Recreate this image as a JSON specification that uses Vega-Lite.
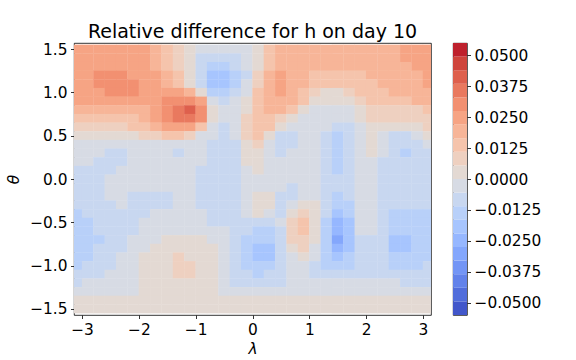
{
"$schema": "https://vega.github.io/schema/vega-lite/v6.json",
"autosize": {"type": "pad"},
"padding": {"left": 6, "top": 22, "right": 5, "bottom": 5},
"background": "white",
"bounds": "flush",
"spacing": 22,
"config": {
"view": {"stroke": "black", "strokeWidth": 0.8},
"font": "DejaVu Sans",
"axis": {"labelFont": "DejaVu Sans", "labelFontSize": 15.4, "labelColor": "black", "tickColor": "black", "tickSize": 3.5, "tickWidth": 0.8, "labelPadding": 3.5, "grid": false, "domain": false, "titleFont": "DejaVu Sans", "titleFontSize": 15.4, "titleFontWeight": "normal", "titleFontStyle": "italic", "titleColor": "black"}
},
"resolve": {"scale": {"color": "independent", "y": "independent"}},
"hconcat": [
{
"width": 357, "height": 272,
"title": {"text": "Relative difference for h on day 10", "fontSize": 19, "fontWeight": "normal", "font": "DejaVu Sans", "color": "black", "anchor": "middle", "frame": "group", "baseline": "alphabetic", "offset": -15},
"data": {"values": [
{"x":-3.1,"y":1.5,"v":0.0248},{"x":-2.9,"y":1.5,"v":0.0248},{"x":-2.7,"y":1.5,"v":0.0248},{"x":-2.5,"y":1.5,"v":0.0248},{"x":-2.3,"y":1.5,"v":0.0248},{"x":-2.1,"y":1.5,"v":0.0248},{"x":-1.9,"y":1.5,"v":0.0248},{"x":-1.7,"y":1.5,"v":0.0193},{"x":-1.5,"y":1.5,"v":0.0138},{"x":-1.3,"y":1.5,"v":0.0083},{"x":-1.1,"y":1.5,"v":0.0028},{"x":-0.9,"y":1.5,"v":-0.0028},{"x":-0.7,"y":1.5,"v":-0.0028},{"x":-0.5,"y":1.5,"v":-0.0028},{"x":-0.3,"y":1.5,"v":-0.0028},{"x":-0.1,"y":1.5,"v":-0.0028},{"x":0.1,"y":1.5,"v":0.0028},{"x":0.3,"y":1.5,"v":0.0138},{"x":0.5,"y":1.5,"v":0.0193},{"x":0.7,"y":1.5,"v":0.0193},{"x":0.9,"y":1.5,"v":0.0193},{"x":1.1,"y":1.5,"v":0.0193},{"x":1.3,"y":1.5,"v":0.0193},{"x":1.5,"y":1.5,"v":0.0193},{"x":1.7,"y":1.5,"v":0.0193},{"x":1.9,"y":1.5,"v":0.0193},{"x":2.1,"y":1.5,"v":0.0193},{"x":2.3,"y":1.5,"v":0.0193},{"x":2.5,"y":1.5,"v":0.0193},{"x":2.7,"y":1.5,"v":0.0248},{"x":2.9,"y":1.5,"v":0.0248},{"x":3.1,"y":1.5,"v":0.0248},
{"x":-3.1,"y":1.4,"v":0.0248},{"x":-2.9,"y":1.4,"v":0.0248},{"x":-2.7,"y":1.4,"v":0.0248},{"x":-2.5,"y":1.4,"v":0.0248},{"x":-2.3,"y":1.4,"v":0.0248},{"x":-2.1,"y":1.4,"v":0.0248},{"x":-1.9,"y":1.4,"v":0.0248},{"x":-1.7,"y":1.4,"v":0.0193},{"x":-1.5,"y":1.4,"v":0.0138},{"x":-1.3,"y":1.4,"v":0.0083},{"x":-1.1,"y":1.4,"v":0.0028},{"x":-0.9,"y":1.4,"v":-0.0083},{"x":-0.7,"y":1.4,"v":-0.0083},{"x":-0.5,"y":1.4,"v":-0.0083},{"x":-0.3,"y":1.4,"v":-0.0083},{"x":-0.1,"y":1.4,"v":-0.0028},{"x":0.1,"y":1.4,"v":0.0028},{"x":0.3,"y":1.4,"v":0.0138},{"x":0.5,"y":1.4,"v":0.0193},{"x":0.7,"y":1.4,"v":0.0193},{"x":0.9,"y":1.4,"v":0.0193},{"x":1.1,"y":1.4,"v":0.0193},{"x":1.3,"y":1.4,"v":0.0193},{"x":1.5,"y":1.4,"v":0.0193},{"x":1.7,"y":1.4,"v":0.0193},{"x":1.9,"y":1.4,"v":0.0193},{"x":2.1,"y":1.4,"v":0.0193},{"x":2.3,"y":1.4,"v":0.0193},{"x":2.5,"y":1.4,"v":0.0193},{"x":2.7,"y":1.4,"v":0.0248},{"x":2.9,"y":1.4,"v":0.0248},{"x":3.1,"y":1.4,"v":0.0248},
{"x":-3.1,"y":1.3,"v":0.0248},{"x":-2.9,"y":1.3,"v":0.0248},{"x":-2.7,"y":1.3,"v":0.0248},{"x":-2.5,"y":1.3,"v":0.0248},{"x":-2.3,"y":1.3,"v":0.0248},{"x":-2.1,"y":1.3,"v":0.0248},{"x":-1.9,"y":1.3,"v":0.0248},{"x":-1.7,"y":1.3,"v":0.0193},{"x":-1.5,"y":1.3,"v":0.0138},{"x":-1.3,"y":1.3,"v":0.0083},{"x":-1.1,"y":1.3,"v":0.0028},{"x":-0.9,"y":1.3,"v":-0.0083},{"x":-0.7,"y":1.3,"v":-0.0138},{"x":-0.5,"y":1.3,"v":-0.0138},{"x":-0.3,"y":1.3,"v":-0.0083},{"x":-0.1,"y":1.3,"v":-0.0028},{"x":0.1,"y":1.3,"v":0.0028},{"x":0.3,"y":1.3,"v":0.0138},{"x":0.5,"y":1.3,"v":0.0193},{"x":0.7,"y":1.3,"v":0.0193},{"x":0.9,"y":1.3,"v":0.0193},{"x":1.1,"y":1.3,"v":0.0193},{"x":1.3,"y":1.3,"v":0.0193},{"x":1.5,"y":1.3,"v":0.0193},{"x":1.7,"y":1.3,"v":0.0193},{"x":1.9,"y":1.3,"v":0.0193},{"x":2.1,"y":1.3,"v":0.0193},{"x":2.3,"y":1.3,"v":0.0193},{"x":2.5,"y":1.3,"v":0.0193},{"x":2.7,"y":1.3,"v":0.0193},{"x":2.9,"y":1.3,"v":0.0248},{"x":3.1,"y":1.3,"v":0.0248},
{"x":-3.1,"y":1.2,"v":0.0248},{"x":-2.9,"y":1.2,"v":0.0248},{"x":-2.7,"y":1.2,"v":0.0303},{"x":-2.5,"y":1.2,"v":0.0303},{"x":-2.3,"y":1.2,"v":0.0303},{"x":-2.1,"y":1.2,"v":0.0248},{"x":-1.9,"y":1.2,"v":0.0248},{"x":-1.7,"y":1.2,"v":0.0248},{"x":-1.5,"y":1.2,"v":0.0193},{"x":-1.3,"y":1.2,"v":0.0138},{"x":-1.1,"y":1.2,"v":0.0028},{"x":-0.9,"y":1.2,"v":-0.0083},{"x":-0.7,"y":1.2,"v":-0.0193},{"x":-0.5,"y":1.2,"v":-0.0193},{"x":-0.3,"y":1.2,"v":-0.0138},{"x":-0.1,"y":1.2,"v":-0.0083},{"x":0.1,"y":1.2,"v":0.0083},{"x":0.3,"y":1.2,"v":0.0193},{"x":0.5,"y":1.2,"v":0.0248},{"x":0.7,"y":1.2,"v":0.0193},{"x":0.9,"y":1.2,"v":0.0193},{"x":1.1,"y":1.2,"v":0.0138},{"x":1.3,"y":1.2,"v":0.0138},{"x":1.5,"y":1.2,"v":0.0138},{"x":1.7,"y":1.2,"v":0.0138},{"x":1.9,"y":1.2,"v":0.0138},{"x":2.1,"y":1.2,"v":0.0193},{"x":2.3,"y":1.2,"v":0.0193},{"x":2.5,"y":1.2,"v":0.0193},{"x":2.7,"y":1.2,"v":0.0193},{"x":2.9,"y":1.2,"v":0.0193},{"x":3.1,"y":1.2,"v":0.0248},
{"x":-3.1,"y":1.1,"v":0.0248},{"x":-2.9,"y":1.1,"v":0.0248},{"x":-2.7,"y":1.1,"v":0.0303},{"x":-2.5,"y":1.1,"v":0.0303},{"x":-2.3,"y":1.1,"v":0.0303},{"x":-2.1,"y":1.1,"v":0.0303},{"x":-1.9,"y":1.1,"v":0.0248},{"x":-1.7,"y":1.1,"v":0.0248},{"x":-1.5,"y":1.1,"v":0.0193},{"x":-1.3,"y":1.1,"v":0.0138},{"x":-1.1,"y":1.1,"v":0.0028},{"x":-0.9,"y":1.1,"v":-0.0083},{"x":-0.7,"y":1.1,"v":-0.0193},{"x":-0.5,"y":1.1,"v":-0.0193},{"x":-0.3,"y":1.1,"v":-0.0138},{"x":-0.1,"y":1.1,"v":-0.0028},{"x":0.1,"y":1.1,"v":0.0083},{"x":0.3,"y":1.1,"v":0.0193},{"x":0.5,"y":1.1,"v":0.0248},{"x":0.7,"y":1.1,"v":0.0193},{"x":0.9,"y":1.1,"v":0.0193},{"x":1.1,"y":1.1,"v":0.0138},{"x":1.3,"y":1.1,"v":0.0138},{"x":1.5,"y":1.1,"v":0.0138},{"x":1.7,"y":1.1,"v":0.0138},{"x":1.9,"y":1.1,"v":0.0138},{"x":2.1,"y":1.1,"v":0.0138},{"x":2.3,"y":1.1,"v":0.0193},{"x":2.5,"y":1.1,"v":0.0193},{"x":2.7,"y":1.1,"v":0.0193},{"x":2.9,"y":1.1,"v":0.0193},{"x":3.1,"y":1.1,"v":0.0248},
{"x":-3.1,"y":1.0,"v":0.0248},{"x":-2.9,"y":1.0,"v":0.0248},{"x":-2.7,"y":1.0,"v":0.0248},{"x":-2.5,"y":1.0,"v":0.0303},{"x":-2.3,"y":1.0,"v":0.0303},{"x":-2.1,"y":1.0,"v":0.0303},{"x":-1.9,"y":1.0,"v":0.0248},{"x":-1.7,"y":1.0,"v":0.0248},{"x":-1.5,"y":1.0,"v":0.0248},{"x":-1.3,"y":1.0,"v":0.0248},{"x":-1.1,"y":1.0,"v":0.0193},{"x":-0.9,"y":1.0,"v":0.0028},{"x":-0.7,"y":1.0,"v":-0.0138},{"x":-0.5,"y":1.0,"v":-0.0138},{"x":-0.3,"y":1.0,"v":-0.0083},{"x":-0.1,"y":1.0,"v":-0.0028},{"x":0.1,"y":1.0,"v":0.0138},{"x":0.3,"y":1.0,"v":0.0193},{"x":0.5,"y":1.0,"v":0.0248},{"x":0.7,"y":1.0,"v":0.0193},{"x":0.9,"y":1.0,"v":0.0138},{"x":1.1,"y":1.0,"v":0.0083},{"x":1.3,"y":1.0,"v":0.0028},{"x":1.5,"y":1.0,"v":0.0028},{"x":1.7,"y":1.0,"v":0.0083},{"x":1.9,"y":1.0,"v":0.0138},{"x":2.1,"y":1.0,"v":0.0138},{"x":2.3,"y":1.0,"v":0.0138},{"x":2.5,"y":1.0,"v":0.0193},{"x":2.7,"y":1.0,"v":0.0193},{"x":2.9,"y":1.0,"v":0.0193},{"x":3.1,"y":1.0,"v":0.0193},
{"x":-3.1,"y":0.9,"v":0.0248},{"x":-2.9,"y":0.9,"v":0.0248},{"x":-2.7,"y":0.9,"v":0.0248},{"x":-2.5,"y":0.9,"v":0.0248},{"x":-2.3,"y":0.9,"v":0.0248},{"x":-2.1,"y":0.9,"v":0.0248},{"x":-1.9,"y":0.9,"v":0.0248},{"x":-1.7,"y":0.9,"v":0.0248},{"x":-1.5,"y":0.9,"v":0.0303},{"x":-1.3,"y":0.9,"v":0.0303},{"x":-1.1,"y":0.9,"v":0.0303},{"x":-0.9,"y":0.9,"v":0.0248},{"x":-0.7,"y":0.9,"v":-0.0028},{"x":-0.5,"y":0.9,"v":-0.0083},{"x":-0.3,"y":0.9,"v":-0.0028},{"x":-0.1,"y":0.9,"v":0.0028},{"x":0.1,"y":0.9,"v":0.0138},{"x":0.3,"y":0.9,"v":0.0193},{"x":0.5,"y":0.9,"v":0.0193},{"x":0.7,"y":0.9,"v":0.0193},{"x":0.9,"y":0.9,"v":0.0138},{"x":1.1,"y":0.9,"v":0.0028},{"x":1.3,"y":0.9,"v":0.0028},{"x":1.5,"y":0.9,"v":0.0028},{"x":1.7,"y":0.9,"v":0.0028},{"x":1.9,"y":0.9,"v":0.0083},{"x":2.1,"y":0.9,"v":0.0138},{"x":2.3,"y":0.9,"v":0.0138},{"x":2.5,"y":0.9,"v":0.0138},{"x":2.7,"y":0.9,"v":0.0138},{"x":2.9,"y":0.9,"v":0.0193},{"x":3.1,"y":0.9,"v":0.0193},
{"x":-3.1,"y":0.8,"v":0.0193},{"x":-2.9,"y":0.8,"v":0.0193},{"x":-2.7,"y":0.8,"v":0.0193},{"x":-2.5,"y":0.8,"v":0.0193},{"x":-2.3,"y":0.8,"v":0.0193},{"x":-2.1,"y":0.8,"v":0.0193},{"x":-1.9,"y":0.8,"v":0.0193},{"x":-1.7,"y":0.8,"v":0.0248},{"x":-1.5,"y":0.8,"v":0.0303},{"x":-1.3,"y":0.8,"v":0.0358},{"x":-1.1,"y":0.8,"v":0.0413},{"x":-0.9,"y":0.8,"v":0.0303},{"x":-0.7,"y":0.8,"v":0.0028},{"x":-0.5,"y":0.8,"v":-0.0028},{"x":-0.3,"y":0.8,"v":-0.0028},{"x":-0.1,"y":0.8,"v":0.0028},{"x":0.1,"y":0.8,"v":0.0138},{"x":0.3,"y":0.8,"v":0.0193},{"x":0.5,"y":0.8,"v":0.0193},{"x":0.7,"y":0.8,"v":0.0138},{"x":0.9,"y":0.8,"v":0.0028},{"x":1.1,"y":0.8,"v":-0.0028},{"x":1.3,"y":0.8,"v":-0.0028},{"x":1.5,"y":0.8,"v":-0.0028},{"x":1.7,"y":0.8,"v":-0.0028},{"x":1.9,"y":0.8,"v":0.0028},{"x":2.1,"y":0.8,"v":0.0083},{"x":2.3,"y":0.8,"v":0.0083},{"x":2.5,"y":0.8,"v":0.0083},{"x":2.7,"y":0.8,"v":0.0083},{"x":2.9,"y":0.8,"v":0.0083},{"x":3.1,"y":0.8,"v":0.0138},
{"x":-3.1,"y":0.7,"v":0.0138},{"x":-2.9,"y":0.7,"v":0.0138},{"x":-2.7,"y":0.7,"v":0.0138},{"x":-2.5,"y":0.7,"v":0.0138},{"x":-2.3,"y":0.7,"v":0.0138},{"x":-2.1,"y":0.7,"v":0.0138},{"x":-1.9,"y":0.7,"v":0.0193},{"x":-1.7,"y":0.7,"v":0.0248},{"x":-1.5,"y":0.7,"v":0.0303},{"x":-1.3,"y":0.7,"v":0.0358},{"x":-1.1,"y":0.7,"v":0.0358},{"x":-0.9,"y":0.7,"v":0.0303},{"x":-0.7,"y":0.7,"v":0.0028},{"x":-0.5,"y":0.7,"v":-0.0028},{"x":-0.3,"y":0.7,"v":-0.0028},{"x":-0.1,"y":0.7,"v":0.0083},{"x":0.1,"y":0.7,"v":0.0138},{"x":0.3,"y":0.7,"v":0.0138},{"x":0.5,"y":0.7,"v":0.0083},{"x":0.7,"y":0.7,"v":0.0028},{"x":0.9,"y":0.7,"v":-0.0028},{"x":1.1,"y":0.7,"v":-0.0028},{"x":1.3,"y":0.7,"v":-0.0028},{"x":1.5,"y":0.7,"v":-0.0028},{"x":1.7,"y":0.7,"v":-0.0028},{"x":1.9,"y":0.7,"v":0.0028},{"x":2.1,"y":0.7,"v":0.0083},{"x":2.3,"y":0.7,"v":0.0083},{"x":2.5,"y":0.7,"v":0.0083},{"x":2.7,"y":0.7,"v":0.0083},{"x":2.9,"y":0.7,"v":0.0083},{"x":3.1,"y":0.7,"v":0.0083},
{"x":-3.1,"y":0.6,"v":0.0083},{"x":-2.9,"y":0.6,"v":0.0083},{"x":-2.7,"y":0.6,"v":0.0083},{"x":-2.5,"y":0.6,"v":0.0083},{"x":-2.3,"y":0.6,"v":0.0083},{"x":-2.1,"y":0.6,"v":0.0138},{"x":-1.9,"y":0.6,"v":0.0138},{"x":-1.7,"y":0.6,"v":0.0193},{"x":-1.5,"y":0.6,"v":0.0248},{"x":-1.3,"y":0.6,"v":0.0248},{"x":-1.1,"y":0.6,"v":0.0248},{"x":-0.9,"y":0.6,"v":0.0138},{"x":-0.7,"y":0.6,"v":-0.0028},{"x":-0.5,"y":0.6,"v":-0.0083},{"x":-0.3,"y":0.6,"v":-0.0028},{"x":-0.1,"y":0.6,"v":0.0083},{"x":0.1,"y":0.6,"v":0.0138},{"x":0.3,"y":0.6,"v":0.0138},{"x":0.5,"y":0.6,"v":0.0028},{"x":0.7,"y":0.6,"v":-0.0028},{"x":0.9,"y":0.6,"v":-0.0028},{"x":1.1,"y":0.6,"v":-0.0028},{"x":1.3,"y":0.6,"v":-0.0028},{"x":1.5,"y":0.6,"v":-0.0083},{"x":1.7,"y":0.6,"v":-0.0083},{"x":1.9,"y":0.6,"v":-0.0028},{"x":2.1,"y":0.6,"v":0.0028},{"x":2.3,"y":0.6,"v":0.0028},{"x":2.5,"y":0.6,"v":0.0028},{"x":2.7,"y":0.6,"v":0.0028},{"x":2.9,"y":0.6,"v":0.0028},{"x":3.1,"y":0.6,"v":0.0083},
{"x":-3.1,"y":0.5,"v":0.0028},{"x":-2.9,"y":0.5,"v":0.0028},{"x":-2.7,"y":0.5,"v":0.0028},{"x":-2.5,"y":0.5,"v":0.0028},{"x":-2.3,"y":0.5,"v":0.0028},{"x":-2.1,"y":0.5,"v":0.0028},{"x":-1.9,"y":0.5,"v":0.0083},{"x":-1.7,"y":0.5,"v":0.0083},{"x":-1.5,"y":0.5,"v":0.0138},{"x":-1.3,"y":0.5,"v":0.0138},{"x":-1.1,"y":0.5,"v":0.0083},{"x":-0.9,"y":0.5,"v":-0.0028},{"x":-0.7,"y":0.5,"v":-0.0028},{"x":-0.5,"y":0.5,"v":-0.0083},{"x":-0.3,"y":0.5,"v":-0.0028},{"x":-0.1,"y":0.5,"v":0.0083},{"x":0.1,"y":0.5,"v":0.0138},{"x":0.3,"y":0.5,"v":0.0028},{"x":0.5,"y":0.5,"v":-0.0083},{"x":0.7,"y":0.5,"v":-0.0083},{"x":0.9,"y":0.5,"v":-0.0028},{"x":1.1,"y":0.5,"v":-0.0028},{"x":1.3,"y":0.5,"v":-0.0083},{"x":1.5,"y":0.5,"v":-0.0138},{"x":1.7,"y":0.5,"v":-0.0083},{"x":1.9,"y":0.5,"v":-0.0028},{"x":2.1,"y":0.5,"v":0.0028},{"x":2.3,"y":0.5,"v":-0.0028},{"x":2.5,"y":0.5,"v":-0.0083},{"x":2.7,"y":0.5,"v":-0.0083},{"x":2.9,"y":0.5,"v":-0.0028},{"x":3.1,"y":0.5,"v":0.0028},
{"x":-3.1,"y":0.4,"v":-0.0028},{"x":-2.9,"y":0.4,"v":-0.0028},{"x":-2.7,"y":0.4,"v":-0.0028},{"x":-2.5,"y":0.4,"v":-0.0028},{"x":-2.3,"y":0.4,"v":-0.0028},{"x":-2.1,"y":0.4,"v":-0.0028},{"x":-1.9,"y":0.4,"v":-0.0028},{"x":-1.7,"y":0.4,"v":-0.0028},{"x":-1.5,"y":0.4,"v":-0.0028},{"x":-1.3,"y":0.4,"v":-0.0028},{"x":-1.1,"y":0.4,"v":-0.0028},{"x":-0.9,"y":0.4,"v":-0.0028},{"x":-0.7,"y":0.4,"v":-0.0083},{"x":-0.5,"y":0.4,"v":-0.0083},{"x":-0.3,"y":0.4,"v":-0.0083},{"x":-0.1,"y":0.4,"v":0.0028},{"x":0.1,"y":0.4,"v":0.0083},{"x":0.3,"y":0.4,"v":-0.0028},{"x":0.5,"y":0.4,"v":-0.0083},{"x":0.7,"y":0.4,"v":-0.0083},{"x":0.9,"y":0.4,"v":-0.0028},{"x":1.1,"y":0.4,"v":-0.0028},{"x":1.3,"y":0.4,"v":-0.0083},{"x":1.5,"y":0.4,"v":-0.0138},{"x":1.7,"y":0.4,"v":-0.0083},{"x":1.9,"y":0.4,"v":-0.0028},{"x":2.1,"y":0.4,"v":0.0028},{"x":2.3,"y":0.4,"v":-0.0028},{"x":2.5,"y":0.4,"v":-0.0083},{"x":2.7,"y":0.4,"v":-0.0083},{"x":2.9,"y":0.4,"v":-0.0083},{"x":3.1,"y":0.4,"v":-0.0028},
{"x":-3.1,"y":0.3,"v":-0.0028},{"x":-2.9,"y":0.3,"v":-0.0028},{"x":-2.7,"y":0.3,"v":-0.0028},{"x":-2.5,"y":0.3,"v":-0.0083},{"x":-2.3,"y":0.3,"v":-0.0083},{"x":-2.1,"y":0.3,"v":-0.0028},{"x":-1.9,"y":0.3,"v":-0.0028},{"x":-1.7,"y":0.3,"v":-0.0028},{"x":-1.5,"y":0.3,"v":-0.0028},{"x":-1.3,"y":0.3,"v":-0.0083},{"x":-1.1,"y":0.3,"v":-0.0028},{"x":-0.9,"y":0.3,"v":-0.0028},{"x":-0.7,"y":0.3,"v":-0.0083},{"x":-0.5,"y":0.3,"v":-0.0083},{"x":-0.3,"y":0.3,"v":-0.0083},{"x":-0.1,"y":0.3,"v":0.0028},{"x":0.1,"y":0.3,"v":0.0028},{"x":0.3,"y":0.3,"v":-0.0028},{"x":0.5,"y":0.3,"v":-0.0083},{"x":0.7,"y":0.3,"v":-0.0028},{"x":0.9,"y":0.3,"v":-0.0028},{"x":1.1,"y":0.3,"v":-0.0028},{"x":1.3,"y":0.3,"v":-0.0083},{"x":1.5,"y":0.3,"v":-0.0138},{"x":1.7,"y":0.3,"v":-0.0083},{"x":1.9,"y":0.3,"v":-0.0028},{"x":2.1,"y":0.3,"v":0.0028},{"x":2.3,"y":0.3,"v":-0.0028},{"x":2.5,"y":0.3,"v":-0.0083},{"x":2.7,"y":0.3,"v":-0.0138},{"x":2.9,"y":0.3,"v":-0.0083},{"x":3.1,"y":0.3,"v":-0.0083},
{"x":-3.1,"y":0.2,"v":-0.0028},{"x":-2.9,"y":0.2,"v":-0.0028},{"x":-2.7,"y":0.2,"v":-0.0083},{"x":-2.5,"y":0.2,"v":-0.0083},{"x":-2.3,"y":0.2,"v":-0.0083},{"x":-2.1,"y":0.2,"v":-0.0028},{"x":-1.9,"y":0.2,"v":-0.0028},{"x":-1.7,"y":0.2,"v":-0.0028},{"x":-1.5,"y":0.2,"v":-0.0028},{"x":-1.3,"y":0.2,"v":-0.0028},{"x":-1.1,"y":0.2,"v":-0.0028},{"x":-0.9,"y":0.2,"v":-0.0028},{"x":-0.7,"y":0.2,"v":-0.0083},{"x":-0.5,"y":0.2,"v":-0.0083},{"x":-0.3,"y":0.2,"v":-0.0083},{"x":-0.1,"y":0.2,"v":0.0028},{"x":0.1,"y":0.2,"v":0.0028},{"x":0.3,"y":0.2,"v":-0.0028},{"x":0.5,"y":0.2,"v":-0.0028},{"x":0.7,"y":0.2,"v":-0.0028},{"x":0.9,"y":0.2,"v":-0.0028},{"x":1.1,"y":0.2,"v":-0.0028},{"x":1.3,"y":0.2,"v":-0.0083},{"x":1.5,"y":0.2,"v":-0.0138},{"x":1.7,"y":0.2,"v":-0.0083},{"x":1.9,"y":0.2,"v":-0.0028},{"x":2.1,"y":0.2,"v":-0.0028},{"x":2.3,"y":0.2,"v":-0.0083},{"x":2.5,"y":0.2,"v":-0.0083},{"x":2.7,"y":0.2,"v":-0.0083},{"x":2.9,"y":0.2,"v":-0.0083},{"x":3.1,"y":0.2,"v":-0.0083},
{"x":-3.1,"y":0.1,"v":-0.0083},{"x":-2.9,"y":0.1,"v":-0.0083},{"x":-2.7,"y":0.1,"v":-0.0083},{"x":-2.5,"y":0.1,"v":-0.0083},{"x":-2.3,"y":0.1,"v":-0.0028},{"x":-2.1,"y":0.1,"v":-0.0028},{"x":-1.9,"y":0.1,"v":-0.0028},{"x":-1.7,"y":0.1,"v":-0.0028},{"x":-1.5,"y":0.1,"v":-0.0028},{"x":-1.3,"y":0.1,"v":-0.0028},{"x":-1.1,"y":0.1,"v":-0.0028},{"x":-0.9,"y":0.1,"v":-0.0083},{"x":-0.7,"y":0.1,"v":-0.0083},{"x":-0.5,"y":0.1,"v":-0.0083},{"x":-0.3,"y":0.1,"v":-0.0083},{"x":-0.1,"y":0.1,"v":-0.0028},{"x":0.1,"y":0.1,"v":0.0028},{"x":0.3,"y":0.1,"v":-0.0028},{"x":0.5,"y":0.1,"v":-0.0028},{"x":0.7,"y":0.1,"v":-0.0028},{"x":0.9,"y":0.1,"v":-0.0028},{"x":1.1,"y":0.1,"v":-0.0028},{"x":1.3,"y":0.1,"v":-0.0083},{"x":1.5,"y":0.1,"v":-0.0138},{"x":1.7,"y":0.1,"v":-0.0083},{"x":1.9,"y":0.1,"v":-0.0028},{"x":2.1,"y":0.1,"v":-0.0028},{"x":2.3,"y":0.1,"v":-0.0083},{"x":2.5,"y":0.1,"v":-0.0083},{"x":2.7,"y":0.1,"v":-0.0083},{"x":2.9,"y":0.1,"v":-0.0083},{"x":3.1,"y":0.1,"v":-0.0083},
{"x":-3.1,"y":0.0,"v":-0.0083},{"x":-2.9,"y":0.0,"v":-0.0083},{"x":-2.7,"y":0.0,"v":-0.0083},{"x":-2.5,"y":0.0,"v":-0.0028},{"x":-2.3,"y":0.0,"v":-0.0028},{"x":-2.1,"y":0.0,"v":-0.0028},{"x":-1.9,"y":0.0,"v":-0.0028},{"x":-1.7,"y":0.0,"v":-0.0028},{"x":-1.5,"y":0.0,"v":-0.0028},{"x":-1.3,"y":0.0,"v":-0.0028},{"x":-1.1,"y":0.0,"v":-0.0028},{"x":-0.9,"y":0.0,"v":-0.0083},{"x":-0.7,"y":0.0,"v":-0.0083},{"x":-0.5,"y":0.0,"v":-0.0083},{"x":-0.3,"y":0.0,"v":-0.0083},{"x":-0.1,"y":0.0,"v":-0.0028},{"x":0.1,"y":0.0,"v":-0.0028},{"x":0.3,"y":0.0,"v":-0.0028},{"x":0.5,"y":0.0,"v":-0.0028},{"x":0.7,"y":0.0,"v":-0.0028},{"x":0.9,"y":0.0,"v":-0.0028},{"x":1.1,"y":0.0,"v":-0.0028},{"x":1.3,"y":0.0,"v":-0.0083},{"x":1.5,"y":0.0,"v":-0.0083},{"x":1.7,"y":0.0,"v":-0.0083},{"x":1.9,"y":0.0,"v":-0.0028},{"x":2.1,"y":0.0,"v":-0.0028},{"x":2.3,"y":0.0,"v":-0.0083},{"x":2.5,"y":0.0,"v":-0.0083},{"x":2.7,"y":0.0,"v":-0.0083},{"x":2.9,"y":0.0,"v":-0.0083},{"x":3.1,"y":0.0,"v":-0.0083},
{"x":-3.1,"y":-0.1,"v":-0.0083},{"x":-2.9,"y":-0.1,"v":-0.0083},{"x":-2.7,"y":-0.1,"v":-0.0083},{"x":-2.5,"y":-0.1,"v":-0.0028},{"x":-2.3,"y":-0.1,"v":-0.0028},{"x":-2.1,"y":-0.1,"v":-0.0028},{"x":-1.9,"y":-0.1,"v":-0.0028},{"x":-1.7,"y":-0.1,"v":-0.0028},{"x":-1.5,"y":-0.1,"v":-0.0028},{"x":-1.3,"y":-0.1,"v":-0.0028},{"x":-1.1,"y":-0.1,"v":-0.0028},{"x":-0.9,"y":-0.1,"v":-0.0083},{"x":-0.7,"y":-0.1,"v":-0.0083},{"x":-0.5,"y":-0.1,"v":-0.0083},{"x":-0.3,"y":-0.1,"v":-0.0083},{"x":-0.1,"y":-0.1,"v":-0.0028},{"x":0.1,"y":-0.1,"v":-0.0028},{"x":0.3,"y":-0.1,"v":-0.0028},{"x":0.5,"y":-0.1,"v":-0.0028},{"x":0.7,"y":-0.1,"v":-0.0083},{"x":0.9,"y":-0.1,"v":-0.0028},{"x":1.1,"y":-0.1,"v":-0.0028},{"x":1.3,"y":-0.1,"v":-0.0083},{"x":1.5,"y":-0.1,"v":-0.0083},{"x":1.7,"y":-0.1,"v":-0.0083},{"x":1.9,"y":-0.1,"v":-0.0028},{"x":2.1,"y":-0.1,"v":-0.0028},{"x":2.3,"y":-0.1,"v":-0.0083},{"x":2.5,"y":-0.1,"v":-0.0083},{"x":2.7,"y":-0.1,"v":-0.0083},{"x":2.9,"y":-0.1,"v":-0.0083},{"x":3.1,"y":-0.1,"v":-0.0083},
{"x":-3.1,"y":-0.2,"v":-0.0083},{"x":-2.9,"y":-0.2,"v":-0.0083},{"x":-2.7,"y":-0.2,"v":-0.0083},{"x":-2.5,"y":-0.2,"v":-0.0028},{"x":-2.3,"y":-0.2,"v":-0.0028},{"x":-2.1,"y":-0.2,"v":-0.0083},{"x":-1.9,"y":-0.2,"v":-0.0083},{"x":-1.7,"y":-0.2,"v":-0.0083},{"x":-1.5,"y":-0.2,"v":-0.0083},{"x":-1.3,"y":-0.2,"v":-0.0028},{"x":-1.1,"y":-0.2,"v":-0.0028},{"x":-0.9,"y":-0.2,"v":-0.0083},{"x":-0.7,"y":-0.2,"v":-0.0083},{"x":-0.5,"y":-0.2,"v":-0.0083},{"x":-0.3,"y":-0.2,"v":-0.0083},{"x":-0.1,"y":-0.2,"v":-0.0028},{"x":0.1,"y":-0.2,"v":0.0028},{"x":0.3,"y":-0.2,"v":0.0028},{"x":0.5,"y":-0.2,"v":-0.0083},{"x":0.7,"y":-0.2,"v":-0.0083},{"x":0.9,"y":-0.2,"v":-0.0028},{"x":1.1,"y":-0.2,"v":-0.0028},{"x":1.3,"y":-0.2,"v":-0.0083},{"x":1.5,"y":-0.2,"v":-0.0138},{"x":1.7,"y":-0.2,"v":-0.0083},{"x":1.9,"y":-0.2,"v":-0.0028},{"x":2.1,"y":-0.2,"v":-0.0028},{"x":2.3,"y":-0.2,"v":-0.0083},{"x":2.5,"y":-0.2,"v":-0.0083},{"x":2.7,"y":-0.2,"v":-0.0083},{"x":2.9,"y":-0.2,"v":-0.0083},{"x":3.1,"y":-0.2,"v":-0.0083},
{"x":-3.1,"y":-0.3,"v":-0.0083},{"x":-2.9,"y":-0.3,"v":-0.0083},{"x":-2.7,"y":-0.3,"v":-0.0083},{"x":-2.5,"y":-0.3,"v":-0.0083},{"x":-2.3,"y":-0.3,"v":-0.0028},{"x":-2.1,"y":-0.3,"v":-0.0083},{"x":-1.9,"y":-0.3,"v":-0.0083},{"x":-1.7,"y":-0.3,"v":-0.0083},{"x":-1.5,"y":-0.3,"v":-0.0083},{"x":-1.3,"y":-0.3,"v":-0.0028},{"x":-1.1,"y":-0.3,"v":-0.0028},{"x":-0.9,"y":-0.3,"v":-0.0083},{"x":-0.7,"y":-0.3,"v":-0.0083},{"x":-0.5,"y":-0.3,"v":-0.0083},{"x":-0.3,"y":-0.3,"v":-0.0083},{"x":-0.1,"y":-0.3,"v":-0.0028},{"x":0.1,"y":-0.3,"v":0.0028},{"x":0.3,"y":-0.3,"v":0.0028},{"x":0.5,"y":-0.3,"v":-0.0083},{"x":0.7,"y":-0.3,"v":-0.0028},{"x":0.9,"y":-0.3,"v":0.0028},{"x":1.1,"y":-0.3,"v":0.0028},{"x":1.3,"y":-0.3,"v":-0.0083},{"x":1.5,"y":-0.3,"v":-0.0138},{"x":1.7,"y":-0.3,"v":-0.0138},{"x":1.9,"y":-0.3,"v":-0.0028},{"x":2.1,"y":-0.3,"v":-0.0028},{"x":2.3,"y":-0.3,"v":-0.0083},{"x":2.5,"y":-0.3,"v":-0.0083},{"x":2.7,"y":-0.3,"v":-0.0083},{"x":2.9,"y":-0.3,"v":-0.0083},{"x":3.1,"y":-0.3,"v":-0.0083},
{"x":-3.1,"y":-0.4,"v":-0.0138},{"x":-2.9,"y":-0.4,"v":-0.0083},{"x":-2.7,"y":-0.4,"v":-0.0083},{"x":-2.5,"y":-0.4,"v":-0.0083},{"x":-2.3,"y":-0.4,"v":-0.0083},{"x":-2.1,"y":-0.4,"v":-0.0083},{"x":-1.9,"y":-0.4,"v":-0.0083},{"x":-1.7,"y":-0.4,"v":-0.0028},{"x":-1.5,"y":-0.4,"v":-0.0028},{"x":-1.3,"y":-0.4,"v":-0.0028},{"x":-1.1,"y":-0.4,"v":-0.0028},{"x":-0.9,"y":-0.4,"v":-0.0028},{"x":-0.7,"y":-0.4,"v":-0.0083},{"x":-0.5,"y":-0.4,"v":-0.0083},{"x":-0.3,"y":-0.4,"v":-0.0083},{"x":-0.1,"y":-0.4,"v":-0.0028},{"x":0.1,"y":-0.4,"v":0.0028},{"x":0.3,"y":-0.4,"v":-0.0028},{"x":0.5,"y":-0.4,"v":-0.0083},{"x":0.7,"y":-0.4,"v":0.0028},{"x":0.9,"y":-0.4,"v":0.0083},{"x":1.1,"y":-0.4,"v":0.0028},{"x":1.3,"y":-0.4,"v":-0.0083},{"x":1.5,"y":-0.4,"v":-0.0193},{"x":1.7,"y":-0.4,"v":-0.0138},{"x":1.9,"y":-0.4,"v":-0.0028},{"x":2.1,"y":-0.4,"v":-0.0028},{"x":2.3,"y":-0.4,"v":-0.0083},{"x":2.5,"y":-0.4,"v":-0.0138},{"x":2.7,"y":-0.4,"v":-0.0138},{"x":2.9,"y":-0.4,"v":-0.0138},{"x":3.1,"y":-0.4,"v":-0.0138},
{"x":-3.1,"y":-0.5,"v":-0.0138},{"x":-2.9,"y":-0.5,"v":-0.0138},{"x":-2.7,"y":-0.5,"v":-0.0083},{"x":-2.5,"y":-0.5,"v":-0.0083},{"x":-2.3,"y":-0.5,"v":-0.0083},{"x":-2.1,"y":-0.5,"v":-0.0083},{"x":-1.9,"y":-0.5,"v":-0.0028},{"x":-1.7,"y":-0.5,"v":-0.0028},{"x":-1.5,"y":-0.5,"v":-0.0028},{"x":-1.3,"y":-0.5,"v":-0.0028},{"x":-1.1,"y":-0.5,"v":-0.0028},{"x":-0.9,"y":-0.5,"v":-0.0028},{"x":-0.7,"y":-0.5,"v":-0.0083},{"x":-0.5,"y":-0.5,"v":-0.0083},{"x":-0.3,"y":-0.5,"v":-0.0083},{"x":-0.1,"y":-0.5,"v":-0.0083},{"x":0.1,"y":-0.5,"v":-0.0083},{"x":0.3,"y":-0.5,"v":-0.0083},{"x":0.5,"y":-0.5,"v":-0.0028},{"x":0.7,"y":-0.5,"v":0.0083},{"x":0.9,"y":-0.5,"v":0.0138},{"x":1.1,"y":-0.5,"v":0.0028},{"x":1.3,"y":-0.5,"v":-0.0138},{"x":1.5,"y":-0.5,"v":-0.0248},{"x":1.7,"y":-0.5,"v":-0.0193},{"x":1.9,"y":-0.5,"v":-0.0028},{"x":2.1,"y":-0.5,"v":-0.0028},{"x":2.3,"y":-0.5,"v":-0.0083},{"x":2.5,"y":-0.5,"v":-0.0138},{"x":2.7,"y":-0.5,"v":-0.0138},{"x":2.9,"y":-0.5,"v":-0.0138},{"x":3.1,"y":-0.5,"v":-0.0138},
{"x":-3.1,"y":-0.6,"v":-0.0138},{"x":-2.9,"y":-0.6,"v":-0.0138},{"x":-2.7,"y":-0.6,"v":-0.0083},{"x":-2.5,"y":-0.6,"v":-0.0083},{"x":-2.3,"y":-0.6,"v":-0.0083},{"x":-2.1,"y":-0.6,"v":-0.0083},{"x":-1.9,"y":-0.6,"v":-0.0028},{"x":-1.7,"y":-0.6,"v":-0.0028},{"x":-1.5,"y":-0.6,"v":-0.0028},{"x":-1.3,"y":-0.6,"v":-0.0028},{"x":-1.1,"y":-0.6,"v":-0.0028},{"x":-0.9,"y":-0.6,"v":-0.0028},{"x":-0.7,"y":-0.6,"v":-0.0028},{"x":-0.5,"y":-0.6,"v":-0.0028},{"x":-0.3,"y":-0.6,"v":-0.0083},{"x":-0.1,"y":-0.6,"v":-0.0083},{"x":0.1,"y":-0.6,"v":-0.0138},{"x":0.3,"y":-0.6,"v":-0.0138},{"x":0.5,"y":-0.6,"v":-0.0083},{"x":0.7,"y":-0.6,"v":0.0083},{"x":0.9,"y":-0.6,"v":0.0138},{"x":1.1,"y":-0.6,"v":0.0028},{"x":1.3,"y":-0.6,"v":-0.0138},{"x":1.5,"y":-0.6,"v":-0.0248},{"x":1.7,"y":-0.6,"v":-0.0193},{"x":1.9,"y":-0.6,"v":-0.0028},{"x":2.1,"y":-0.6,"v":-0.0028},{"x":2.3,"y":-0.6,"v":-0.0083},{"x":2.5,"y":-0.6,"v":-0.0138},{"x":2.7,"y":-0.6,"v":-0.0138},{"x":2.9,"y":-0.6,"v":-0.0138},{"x":3.1,"y":-0.6,"v":-0.0138},
{"x":-3.1,"y":-0.7,"v":-0.0138},{"x":-2.9,"y":-0.7,"v":-0.0138},{"x":-2.7,"y":-0.7,"v":-0.0138},{"x":-2.5,"y":-0.7,"v":-0.0083},{"x":-2.3,"y":-0.7,"v":-0.0083},{"x":-2.1,"y":-0.7,"v":-0.0028},{"x":-1.9,"y":-0.7,"v":-0.0028},{"x":-1.7,"y":-0.7,"v":-0.0028},{"x":-1.5,"y":-0.7,"v":0.0028},{"x":-1.3,"y":-0.7,"v":0.0028},{"x":-1.1,"y":-0.7,"v":0.0028},{"x":-0.9,"y":-0.7,"v":0.0028},{"x":-0.7,"y":-0.7,"v":-0.0028},{"x":-0.5,"y":-0.7,"v":-0.0028},{"x":-0.3,"y":-0.7,"v":-0.0083},{"x":-0.1,"y":-0.7,"v":-0.0138},{"x":0.1,"y":-0.7,"v":-0.0138},{"x":0.3,"y":-0.7,"v":-0.0138},{"x":0.5,"y":-0.7,"v":-0.0083},{"x":0.7,"y":-0.7,"v":0.0083},{"x":0.9,"y":-0.7,"v":0.0083},{"x":1.1,"y":-0.7,"v":0.0028},{"x":1.3,"y":-0.7,"v":-0.0138},{"x":1.5,"y":-0.7,"v":-0.0303},{"x":1.7,"y":-0.7,"v":-0.0193},{"x":1.9,"y":-0.7,"v":-0.0083},{"x":2.1,"y":-0.7,"v":-0.0083},{"x":2.3,"y":-0.7,"v":-0.0083},{"x":2.5,"y":-0.7,"v":-0.0193},{"x":2.7,"y":-0.7,"v":-0.0193},{"x":2.9,"y":-0.7,"v":-0.0138},{"x":3.1,"y":-0.7,"v":-0.0138},
{"x":-3.1,"y":-0.8,"v":-0.0138},{"x":-2.9,"y":-0.8,"v":-0.0138},{"x":-2.7,"y":-0.8,"v":-0.0083},{"x":-2.5,"y":-0.8,"v":-0.0083},{"x":-2.3,"y":-0.8,"v":-0.0083},{"x":-2.1,"y":-0.8,"v":-0.0028},{"x":-1.9,"y":-0.8,"v":-0.0028},{"x":-1.7,"y":-0.8,"v":0.0028},{"x":-1.5,"y":-0.8,"v":0.0028},{"x":-1.3,"y":-0.8,"v":0.0028},{"x":-1.1,"y":-0.8,"v":0.0028},{"x":-0.9,"y":-0.8,"v":0.0028},{"x":-0.7,"y":-0.8,"v":0.0028},{"x":-0.5,"y":-0.8,"v":-0.0028},{"x":-0.3,"y":-0.8,"v":-0.0083},{"x":-0.1,"y":-0.8,"v":-0.0138},{"x":0.1,"y":-0.8,"v":-0.0193},{"x":0.3,"y":-0.8,"v":-0.0193},{"x":0.5,"y":-0.8,"v":-0.0083},{"x":0.7,"y":-0.8,"v":0.0028},{"x":0.9,"y":-0.8,"v":0.0083},{"x":1.1,"y":-0.8,"v":-0.0028},{"x":1.3,"y":-0.8,"v":-0.0138},{"x":1.5,"y":-0.8,"v":-0.0248},{"x":1.7,"y":-0.8,"v":-0.0193},{"x":1.9,"y":-0.8,"v":-0.0083},{"x":2.1,"y":-0.8,"v":-0.0083},{"x":2.3,"y":-0.8,"v":-0.0083},{"x":2.5,"y":-0.8,"v":-0.0193},{"x":2.7,"y":-0.8,"v":-0.0193},{"x":2.9,"y":-0.8,"v":-0.0138},{"x":3.1,"y":-0.8,"v":-0.0138},
{"x":-3.1,"y":-0.9,"v":-0.0138},{"x":-2.9,"y":-0.9,"v":-0.0138},{"x":-2.7,"y":-0.9,"v":-0.0083},{"x":-2.5,"y":-0.9,"v":-0.0083},{"x":-2.3,"y":-0.9,"v":-0.0028},{"x":-2.1,"y":-0.9,"v":-0.0028},{"x":-1.9,"y":-0.9,"v":0.0028},{"x":-1.7,"y":-0.9,"v":0.0028},{"x":-1.5,"y":-0.9,"v":0.0028},{"x":-1.3,"y":-0.9,"v":0.0083},{"x":-1.1,"y":-0.9,"v":0.0028},{"x":-0.9,"y":-0.9,"v":0.0028},{"x":-0.7,"y":-0.9,"v":0.0028},{"x":-0.5,"y":-0.9,"v":-0.0028},{"x":-0.3,"y":-0.9,"v":-0.0083},{"x":-0.1,"y":-0.9,"v":-0.0138},{"x":0.1,"y":-0.9,"v":-0.0193},{"x":0.3,"y":-0.9,"v":-0.0193},{"x":0.5,"y":-0.9,"v":-0.0083},{"x":0.7,"y":-0.9,"v":-0.0028},{"x":0.9,"y":-0.9,"v":0.0028},{"x":1.1,"y":-0.9,"v":-0.0028},{"x":1.3,"y":-0.9,"v":-0.0138},{"x":1.5,"y":-0.9,"v":-0.0193},{"x":1.7,"y":-0.9,"v":-0.0138},{"x":1.9,"y":-0.9,"v":-0.0083},{"x":2.1,"y":-0.9,"v":-0.0083},{"x":2.3,"y":-0.9,"v":-0.0083},{"x":2.5,"y":-0.9,"v":-0.0138},{"x":2.7,"y":-0.9,"v":-0.0138},{"x":2.9,"y":-0.9,"v":-0.0138},{"x":3.1,"y":-0.9,"v":-0.0138},
{"x":-3.1,"y":-1.0,"v":-0.0138},{"x":-2.9,"y":-1.0,"v":-0.0083},{"x":-2.7,"y":-1.0,"v":-0.0083},{"x":-2.5,"y":-1.0,"v":-0.0083},{"x":-2.3,"y":-1.0,"v":-0.0028},{"x":-2.1,"y":-1.0,"v":-0.0028},{"x":-1.9,"y":-1.0,"v":0.0028},{"x":-1.7,"y":-1.0,"v":0.0028},{"x":-1.5,"y":-1.0,"v":0.0028},{"x":-1.3,"y":-1.0,"v":0.0083},{"x":-1.1,"y":-1.0,"v":0.0083},{"x":-0.9,"y":-1.0,"v":0.0028},{"x":-0.7,"y":-1.0,"v":0.0028},{"x":-0.5,"y":-1.0,"v":-0.0028},{"x":-0.3,"y":-1.0,"v":-0.0083},{"x":-0.1,"y":-1.0,"v":-0.0138},{"x":0.1,"y":-1.0,"v":-0.0138},{"x":0.3,"y":-1.0,"v":-0.0138},{"x":0.5,"y":-1.0,"v":-0.0083},{"x":0.7,"y":-1.0,"v":-0.0028},{"x":0.9,"y":-1.0,"v":-0.0028},{"x":1.1,"y":-1.0,"v":-0.0083},{"x":1.3,"y":-1.0,"v":-0.0138},{"x":1.5,"y":-1.0,"v":-0.0138},{"x":1.7,"y":-1.0,"v":-0.0138},{"x":1.9,"y":-1.0,"v":-0.0083},{"x":2.1,"y":-1.0,"v":-0.0083},{"x":2.3,"y":-1.0,"v":-0.0083},{"x":2.5,"y":-1.0,"v":-0.0138},{"x":2.7,"y":-1.0,"v":-0.0138},{"x":2.9,"y":-1.0,"v":-0.0138},{"x":3.1,"y":-1.0,"v":-0.0083},
{"x":-3.1,"y":-1.1,"v":-0.0083},{"x":-2.9,"y":-1.1,"v":-0.0083},{"x":-2.7,"y":-1.1,"v":-0.0083},{"x":-2.5,"y":-1.1,"v":-0.0028},{"x":-2.3,"y":-1.1,"v":-0.0028},{"x":-2.1,"y":-1.1,"v":-0.0028},{"x":-1.9,"y":-1.1,"v":0.0028},{"x":-1.7,"y":-1.1,"v":0.0028},{"x":-1.5,"y":-1.1,"v":0.0028},{"x":-1.3,"y":-1.1,"v":0.0083},{"x":-1.1,"y":-1.1,"v":0.0083},{"x":-0.9,"y":-1.1,"v":0.0028},{"x":-0.7,"y":-1.1,"v":0.0028},{"x":-0.5,"y":-1.1,"v":-0.0028},{"x":-0.3,"y":-1.1,"v":-0.0083},{"x":-0.1,"y":-1.1,"v":-0.0083},{"x":0.1,"y":-1.1,"v":-0.0138},{"x":0.3,"y":-1.1,"v":-0.0083},{"x":0.5,"y":-1.1,"v":-0.0083},{"x":0.7,"y":-1.1,"v":-0.0028},{"x":0.9,"y":-1.1,"v":-0.0028},{"x":1.1,"y":-1.1,"v":-0.0083},{"x":1.3,"y":-1.1,"v":-0.0083},{"x":1.5,"y":-1.1,"v":-0.0083},{"x":1.7,"y":-1.1,"v":-0.0083},{"x":1.9,"y":-1.1,"v":-0.0083},{"x":2.1,"y":-1.1,"v":-0.0083},{"x":2.3,"y":-1.1,"v":-0.0083},{"x":2.5,"y":-1.1,"v":-0.0083},{"x":2.7,"y":-1.1,"v":-0.0083},{"x":2.9,"y":-1.1,"v":-0.0083},{"x":3.1,"y":-1.1,"v":-0.0083},
{"x":-3.1,"y":-1.2,"v":-0.0083},{"x":-2.9,"y":-1.2,"v":-0.0028},{"x":-2.7,"y":-1.2,"v":-0.0028},{"x":-2.5,"y":-1.2,"v":-0.0028},{"x":-2.3,"y":-1.2,"v":-0.0028},{"x":-2.1,"y":-1.2,"v":-0.0028},{"x":-1.9,"y":-1.2,"v":0.0028},{"x":-1.7,"y":-1.2,"v":0.0028},{"x":-1.5,"y":-1.2,"v":0.0028},{"x":-1.3,"y":-1.2,"v":0.0028},{"x":-1.1,"y":-1.2,"v":0.0028},{"x":-0.9,"y":-1.2,"v":0.0028},{"x":-0.7,"y":-1.2,"v":0.0028},{"x":-0.5,"y":-1.2,"v":-0.0028},{"x":-0.3,"y":-1.2,"v":-0.0083},{"x":-0.1,"y":-1.2,"v":-0.0083},{"x":0.1,"y":-1.2,"v":-0.0083},{"x":0.3,"y":-1.2,"v":-0.0083},{"x":0.5,"y":-1.2,"v":-0.0083},{"x":0.7,"y":-1.2,"v":-0.0028},{"x":0.9,"y":-1.2,"v":-0.0028},{"x":1.1,"y":-1.2,"v":-0.0028},{"x":1.3,"y":-1.2,"v":-0.0028},{"x":1.5,"y":-1.2,"v":-0.0028},{"x":1.7,"y":-1.2,"v":-0.0028},{"x":1.9,"y":-1.2,"v":-0.0028},{"x":2.1,"y":-1.2,"v":-0.0028},{"x":2.3,"y":-1.2,"v":-0.0028},{"x":2.5,"y":-1.2,"v":-0.0028},{"x":2.7,"y":-1.2,"v":-0.0083},{"x":2.9,"y":-1.2,"v":-0.0083},{"x":3.1,"y":-1.2,"v":-0.0083},
{"x":-3.1,"y":-1.3,"v":-0.0028},{"x":-2.9,"y":-1.3,"v":-0.0028},{"x":-2.7,"y":-1.3,"v":-0.0028},{"x":-2.5,"y":-1.3,"v":-0.0028},{"x":-2.3,"y":-1.3,"v":-0.0028},{"x":-2.1,"y":-1.3,"v":-0.0028},{"x":-1.9,"y":-1.3,"v":0.0028},{"x":-1.7,"y":-1.3,"v":0.0028},{"x":-1.5,"y":-1.3,"v":0.0028},{"x":-1.3,"y":-1.3,"v":0.0028},{"x":-1.1,"y":-1.3,"v":0.0028},{"x":-0.9,"y":-1.3,"v":0.0028},{"x":-0.7,"y":-1.3,"v":0.0028},{"x":-0.5,"y":-1.3,"v":-0.0028},{"x":-0.3,"y":-1.3,"v":-0.0028},{"x":-0.1,"y":-1.3,"v":-0.0028},{"x":0.1,"y":-1.3,"v":-0.0028},{"x":0.3,"y":-1.3,"v":-0.0028},{"x":0.5,"y":-1.3,"v":-0.0028},{"x":0.7,"y":-1.3,"v":-0.0028},{"x":0.9,"y":-1.3,"v":-0.0028},{"x":1.1,"y":-1.3,"v":-0.0028},{"x":1.3,"y":-1.3,"v":-0.0028},{"x":1.5,"y":-1.3,"v":-0.0028},{"x":1.7,"y":-1.3,"v":-0.0028},{"x":1.9,"y":-1.3,"v":-0.0028},{"x":2.1,"y":-1.3,"v":-0.0028},{"x":2.3,"y":-1.3,"v":-0.0028},{"x":2.5,"y":-1.3,"v":-0.0028},{"x":2.7,"y":-1.3,"v":-0.0028},{"x":2.9,"y":-1.3,"v":-0.0028},{"x":3.1,"y":-1.3,"v":-0.0028},
{"x":-3.1,"y":-1.4,"v":0.0028},{"x":-2.9,"y":-1.4,"v":0.0028},{"x":-2.7,"y":-1.4,"v":0.0028},{"x":-2.5,"y":-1.4,"v":0.0028},{"x":-2.3,"y":-1.4,"v":0.0028},{"x":-2.1,"y":-1.4,"v":0.0028},{"x":-1.9,"y":-1.4,"v":0.0028},{"x":-1.7,"y":-1.4,"v":0.0028},{"x":-1.5,"y":-1.4,"v":0.0028},{"x":-1.3,"y":-1.4,"v":0.0028},{"x":-1.1,"y":-1.4,"v":0.0028},{"x":-0.9,"y":-1.4,"v":0.0028},{"x":-0.7,"y":-1.4,"v":0.0028},{"x":-0.5,"y":-1.4,"v":0.0028},{"x":-0.3,"y":-1.4,"v":0.0028},{"x":-0.1,"y":-1.4,"v":0.0028},{"x":0.1,"y":-1.4,"v":0.0028},{"x":0.3,"y":-1.4,"v":0.0028},{"x":0.5,"y":-1.4,"v":0.0028},{"x":0.7,"y":-1.4,"v":0.0028},{"x":0.9,"y":-1.4,"v":0.0028},{"x":1.1,"y":-1.4,"v":0.0028},{"x":1.3,"y":-1.4,"v":0.0028},{"x":1.5,"y":-1.4,"v":0.0028},{"x":1.7,"y":-1.4,"v":0.0028},{"x":1.9,"y":-1.4,"v":0.0028},{"x":2.1,"y":-1.4,"v":0.0028},{"x":2.3,"y":-1.4,"v":0.0028},{"x":2.5,"y":-1.4,"v":0.0028},{"x":2.7,"y":-1.4,"v":0.0028},{"x":2.9,"y":-1.4,"v":0.0028},{"x":3.1,"y":-1.4,"v":0.0028},
{"x":-3.1,"y":-1.5,"v":0.0028},{"x":-2.9,"y":-1.5,"v":0.0028},{"x":-2.7,"y":-1.5,"v":0.0028},{"x":-2.5,"y":-1.5,"v":0.0028},{"x":-2.3,"y":-1.5,"v":0.0028},{"x":-2.1,"y":-1.5,"v":0.0028},{"x":-1.9,"y":-1.5,"v":0.0028},{"x":-1.7,"y":-1.5,"v":0.0028},{"x":-1.5,"y":-1.5,"v":0.0028},{"x":-1.3,"y":-1.5,"v":0.0028},{"x":-1.1,"y":-1.5,"v":0.0028},{"x":-0.9,"y":-1.5,"v":0.0028},{"x":-0.7,"y":-1.5,"v":0.0028},{"x":-0.5,"y":-1.5,"v":0.0028},{"x":-0.3,"y":-1.5,"v":0.0028},{"x":-0.1,"y":-1.5,"v":0.0028},{"x":0.1,"y":-1.5,"v":0.0028},{"x":0.3,"y":-1.5,"v":0.0028},{"x":0.5,"y":-1.5,"v":0.0028},{"x":0.7,"y":-1.5,"v":0.0028},{"x":0.9,"y":-1.5,"v":0.0028},{"x":1.1,"y":-1.5,"v":0.0028},{"x":1.3,"y":-1.5,"v":0.0028},{"x":1.5,"y":-1.5,"v":0.0028},{"x":1.7,"y":-1.5,"v":0.0028},{"x":1.9,"y":-1.5,"v":0.0028},{"x":2.1,"y":-1.5,"v":0.0028},{"x":2.3,"y":-1.5,"v":0.0028},{"x":2.5,"y":-1.5,"v":0.0028},{"x":2.7,"y":-1.5,"v":0.0028},{"x":2.9,"y":-1.5,"v":0.0028},{"x":3.1,"y":-1.5,"v":0.0028}
]},
"mark": {"type": "rect", "width": 11.7, "height": 9, "clip": true},
"encoding": {
"x": {"field": "x", "type": "quantitative", "scale": {"domain": [-3.1416, 3.1416], "nice": false, "zero": false}, "axis": {"values": [-3,-2,-1,0,1,2,3], "format": "d", "title": "λ", "titlePadding": 4}},
"y": {"field": "y", "type": "quantitative", "scale": {"domain": [-1.5708, 1.5708], "nice": false, "zero": false}, "axis": {"values": [-1.5,-1,-0.5,0,0.5,1,1.5], "format": ".1f", "title": "θ", "titlePadding": 8}},
"color": {"field": "v", "type": "quantitative", "scale": {"type": "threshold", "domain": [-0.0495,-0.044,-0.0385,-0.033,-0.0275,-0.022,-0.0165,-0.011,-0.0055,0,0.0055,0.011,0.0165,0.022,0.0275,0.033,0.0385,0.044,0.0495], "range": ["#4257ca","#516ddb","#6282ea","#7395f5","#84a7fc","#96b7ff","#a7c5fe","#b8d0f9","#c8d7f0","#d7dbe4","#e3d9d3","#eed0c0","#f5c4ac","#f7b598","#f6a484","#f29071","#e9795f","#de604d","#cf453c","#be212d"]}, "legend": null}
}
},
{
"width": 14, "height": 272,
"data": {"values": [
{"lo":-0.055,"hi":-0.0495,"mid":-0.05225},{"lo":-0.0495,"hi":-0.044,"mid":-0.04675},{"lo":-0.044,"hi":-0.0385,"mid":-0.04125},{"lo":-0.0385,"hi":-0.033,"mid":-0.03575},{"lo":-0.033,"hi":-0.0275,"mid":-0.03025},{"lo":-0.0275,"hi":-0.022,"mid":-0.02475},{"lo":-0.022,"hi":-0.0165,"mid":-0.01925},{"lo":-0.0165,"hi":-0.011,"mid":-0.01375},{"lo":-0.011,"hi":-0.0055,"mid":-0.00825},{"lo":-0.0055,"hi":0,"mid":-0.00275},{"lo":0,"hi":0.0055,"mid":0.00275},{"lo":0.0055,"hi":0.011,"mid":0.00825},{"lo":0.011,"hi":0.0165,"mid":0.01375},{"lo":0.0165,"hi":0.022,"mid":0.01925},{"lo":0.022,"hi":0.0275,"mid":0.02475},{"lo":0.0275,"hi":0.033,"mid":0.03025},{"lo":0.033,"hi":0.0385,"mid":0.03575},{"lo":0.0385,"hi":0.044,"mid":0.04125},{"lo":0.044,"hi":0.0495,"mid":0.04675},{"lo":0.0495,"hi":0.055,"mid":0.05225}
]},
"mark": {"type": "rect"},
"encoding": {
"y": {"field": "lo", "type": "quantitative", "scale": {"domain": [-0.055, 0.055], "nice": false, "zero": false}, "axis": {"orient": "right", "values": [-0.05,-0.0375,-0.025,-0.0125,0,0.0125,0.025,0.0375,0.05], "format": ".4f", "title": null}},
"y2": {"field": "hi"},
"color": {"field": "mid", "type": "quantitative", "scale": {"type": "threshold", "domain": [-0.0495,-0.044,-0.0385,-0.033,-0.0275,-0.022,-0.0165,-0.011,-0.0055,0,0.0055,0.011,0.0165,0.022,0.0275,0.033,0.0385,0.044,0.0495], "range": ["#4257ca","#516ddb","#6282ea","#7395f5","#84a7fc","#96b7ff","#a7c5fe","#b8d0f9","#c8d7f0","#d7dbe4","#e3d9d3","#eed0c0","#f5c4ac","#f7b598","#f6a484","#f29071","#e9795f","#de604d","#cf453c","#be212d"]}, "legend": null}
}
}
]
}
